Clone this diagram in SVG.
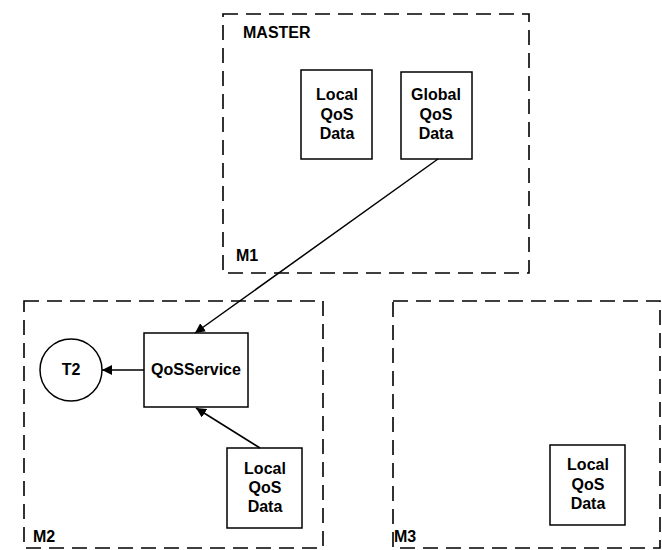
<svg xmlns="http://www.w3.org/2000/svg" width="662" height="550" viewBox="0 0 662 550">
<style>
.grp{fill:none;stroke:#000;stroke-width:1.6;stroke-dasharray:15 8}
.box{fill:#fff;stroke:#000;stroke-width:1.5}
.t{font-family:"Liberation Sans",Arial,sans-serif;font-weight:bold;font-size:16px;fill:#000}
.c{text-anchor:middle}
.edge{fill:none;stroke:#000;stroke-width:1.5}
</style>
<defs>
<marker id="ah" viewBox="0 0 10 10" refX="10" refY="5" markerWidth="10" markerHeight="10" markerUnits="userSpaceOnUse" orient="auto">
<path d="M0,0 L10,5 L0,10 z" fill="#000"/>
</marker>
</defs>
<rect x="0" y="0" width="662" height="550" fill="#fff"/>
<g id="M1">
<rect class="grp" x="223" y="14" width="306" height="259"/>
<text class="t" x="243" y="38">MASTER</text>
<text class="t" x="236" y="261">M1</text>
</g>
<g id="M2">
<rect class="grp" x="24" y="301" width="299" height="247"/>
<text class="t" x="33" y="542">M2</text>
</g>
<g id="M3">
<rect class="grp" x="393" y="301" width="267" height="247"/>
<text class="t" x="394" y="542">M3</text>
</g>
<g id="m1-local">
<rect class="box" x="301" y="70" width="71" height="89"/>
<text class="t c" x="337" y="100">Local</text>
<text class="t c" x="337" y="120">QoS</text>
<text class="t c" x="337" y="139">Data</text>
</g>
<g id="m1-global">
<rect class="box" x="401" y="72" width="71" height="87"/>
<text class="t c" x="436" y="100">Global</text>
<text class="t c" x="436" y="120">QoS</text>
<text class="t c" x="436" y="139">Data</text>
</g>
<g id="qosservice">
<rect class="box" x="144" y="333" width="104" height="74"/>
<text class="t c" x="196" y="375">QoSService</text>
</g>
<g id="t2">
<circle class="box" cx="71" cy="370" r="31"/>
<text class="t c" x="71" y="375">T2</text>
</g>
<g id="m2-local">
<rect class="box" x="227" y="448" width="75" height="80"/>
<text class="t c" x="265" y="474">Local</text>
<text class="t c" x="265" y="493">QoS</text>
<text class="t c" x="265" y="512">Data</text>
</g>
<g id="m3-local">
<rect class="box" x="550" y="445" width="75" height="80"/>
<text class="t c" x="588" y="470">Local</text>
<text class="t c" x="588" y="490">QoS</text>
<text class="t c" x="588" y="509">Data</text>
</g>
<g id="connectors">
<line class="edge" x1="438" y1="159" x2="195" y2="333" marker-end="url(#ah)"/>
<line class="edge" x1="144" y1="370" x2="102" y2="370" marker-end="url(#ah)"/>
<line class="edge" x1="260" y1="448" x2="196" y2="408" marker-end="url(#ah)"/>
</g>
</svg>
